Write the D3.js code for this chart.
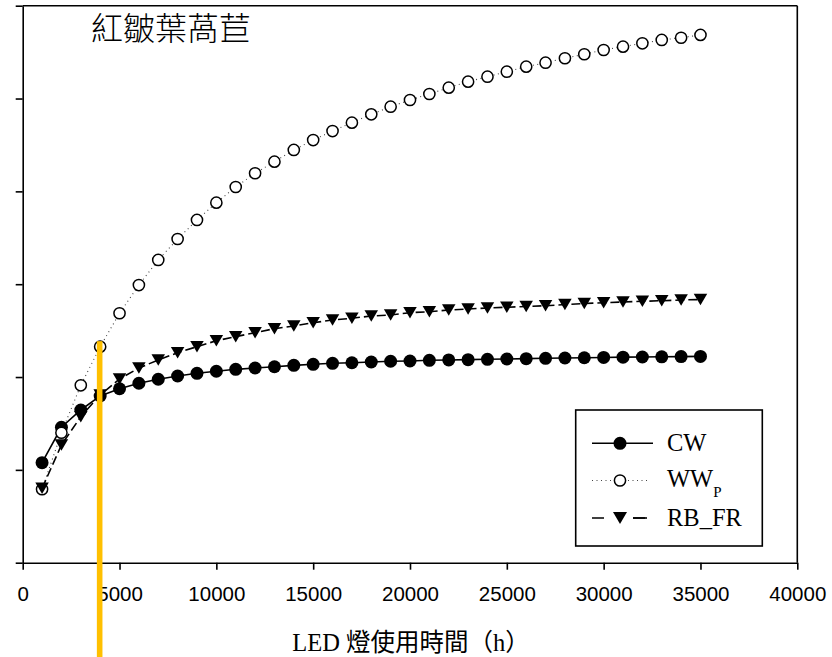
<!DOCTYPE html>
<html>
<head>
<meta charset="utf-8">
<script src="https://cdn.jsdelivr.net/npm/d3@7"></script>
<style>
  html, body { margin: 0; padding: 0; background: #fff; }
  svg { display: block; }
</style>
</head>
<body>
<svg id="chart" width="832" height="657"></svg>
<script>
// LED usage hours (x) and the three light treatments
const hours = [1000, 2000, 3000, 4000, 5000, 6000, 7000, 8000, 9000, 10000,
  11000, 12000, 13000, 14000, 15000, 16000, 17000, 18000, 19000, 20000,
  21000, 22000, 23000, 24000, 25000, 26000, 27000, 28000, 29000, 30000,
  31000, 32000, 33000, 34000, 35000];

const cw = [1.077, 1.459, 1.645, 1.796, 1.874, 1.933, 1.976, 2.011, 2.040, 2.062,
  2.083, 2.097, 2.111, 2.126, 2.137, 2.148, 2.154, 2.162, 2.170, 2.173,
  2.180, 2.184, 2.187, 2.191, 2.194, 2.198, 2.202, 2.205, 2.208, 2.211,
  2.214, 2.216, 2.218, 2.220, 2.222];

const wwP = [0.791, 1.400, 1.911, 2.327, 2.687, 2.991, 3.261, 3.487, 3.692, 3.878,
  4.047, 4.195, 4.320, 4.446, 4.553, 4.650, 4.740, 4.830, 4.912, 4.984,
  5.049, 5.117, 5.182, 5.235, 5.289, 5.343, 5.386, 5.434, 5.477, 5.523,
  5.559, 5.595, 5.631, 5.655, 5.685];

const rbFr = [0.801, 1.268, 1.573, 1.807, 1.979, 2.097, 2.184, 2.262, 2.327, 2.391,
  2.435, 2.478, 2.521, 2.550, 2.585, 2.614, 2.633, 2.658, 2.668, 2.693,
  2.704, 2.722, 2.733, 2.744, 2.752, 2.760, 2.768, 2.781, 2.792, 2.800,
  2.808, 2.816, 2.822, 2.830, 2.835];

const xTicks = [0, 5000, 10000, 15000, 20000, 25000, 30000, 35000, 40000];
const yTicks = [0, 1, 2, 3, 4, 5, 6];

const seriesNames = ["CW", "WW", "RB_FR"];
const titleText = "紅皺葉萵苣";
const xLabelText = "LED 燈使用時間（h）";
const markedHour = 4000;   // highlighted usage time

const svg = d3.select("#chart");

const x = d3.scaleLinear().domain([0, 40000]).range([22.7, 797.3]);
const y = d3.scaleLinear().domain([0, 6]).range([562.7, 5.7]);

// ---- axes ----
const xAxis = d3.axisBottom(x)
  .tickValues(xTicks)
  .tickSize(7)
  .tickSizeOuter(0)
  .tickPadding(17)
  .tickFormat(d3.format("d"));

const gx = svg.append("g")
  .attr("transform", `translate(0,${y(0)})`)
  .call(xAxis);
gx.selectAll("text")
  .attr("font-family", "'Liberation Sans', Arial, sans-serif")
  .attr("font-size", 20.5)
  .attr("fill", "#000");

const yAxis = d3.axisLeft(y)
  .tickValues(yTicks)
  .tickSize(7)
  .tickSizeOuter(0)
  .tickFormat("");
svg.append("g")
  .attr("transform", `translate(${x(0)},0)`)
  .call(yAxis);

svg.selectAll(".domain, .tick line")
  .attr("stroke", "#000")
  .attr("stroke-width", 1.6);

// top and right frame
svg.append("line")
  .attr("x1", x(0)).attr("x2", x(40000))
  .attr("y1", y(6)).attr("y2", y(6))
  .attr("stroke", "#000").attr("stroke-width", 1.6);
svg.append("line")
  .attr("x1", x(40000)).attr("x2", x(40000))
  .attr("y1", y(6)).attr("y2", y(0))
  .attr("stroke", "#000").attr("stroke-width", 1.6);

// ---- series ----
const pts = vals => hours.map((h, i) => [h, vals[i]]);
const line = d3.line().x(d => x(d[0])).y(d => y(d[1]));

const triPath = (cx, cy, w, h) =>
  `M${cx - w / 2},${cy - h / 2}L${cx + w / 2},${cy - h / 2}L${cx},${cy + h / 2}Z`;

// lines
svg.append("path").datum(pts(cw)).attr("d", line)
  .attr("fill", "none").attr("stroke", "#000").attr("stroke-width", 1.6);
svg.append("path").datum(pts(wwP)).attr("d", line)
  .attr("fill", "none").attr("stroke", "#444").attr("stroke-width", 1.1)
  .attr("stroke-dasharray", "1,3.5");
svg.append("path").datum(pts(rbFr)).attr("d", line)
  .attr("fill", "none").attr("stroke", "#000").attr("stroke-width", 1.6)
  .attr("stroke-dasharray", "9,4");

// markers
svg.append("g").selectAll("circle").data(pts(cw)).join("circle")
  .attr("cx", d => x(d[0])).attr("cy", d => y(d[1]))
  .attr("r", 6.5).attr("fill", "#000");

svg.append("g").selectAll("circle").data(pts(wwP)).join("circle")
  .attr("cx", d => x(d[0])).attr("cy", d => y(d[1]))
  .attr("r", 5.6).attr("fill", "#fff")
  .attr("stroke", "#000").attr("stroke-width", 1.5);

svg.append("g").selectAll("path").data(pts(rbFr)).join("path")
  .attr("d", d => triPath(x(d[0]), y(d[1]), 13.5, 11.5))
  .attr("fill", "#000");

// ---- legend ----
const lg = svg.append("g");
lg.append("rect")
  .attr("x", 575.7).attr("y", 410).attr("width", 186.6).attr("height", 136)
  .attr("fill", "#fff").attr("stroke", "#000").attr("stroke-width", 1.6);

const rows = [443.3, 480.5, 518];
const lx1 = 592, lx2 = 650, mx = 620, tx = 667;

// CW
lg.append("line").attr("x1", lx1).attr("x2", lx2 + 3).attr("y1", rows[0]).attr("y2", rows[0])
  .attr("stroke", "#000").attr("stroke-width", 1.6);
lg.append("circle").attr("cx", mx).attr("cy", rows[0]).attr("r", 6.5).attr("fill", "#000");
// WW_P
lg.append("line").attr("x1", lx1).attr("x2", lx2).attr("y1", rows[1]).attr("y2", rows[1])
  .attr("stroke", "#444").attr("stroke-width", 1.1).attr("stroke-dasharray", "1,3.5");
lg.append("circle").attr("cx", mx).attr("cy", rows[1]).attr("r", 5.6)
  .attr("fill", "#fff").attr("stroke", "#000").attr("stroke-width", 1.5);
// RB_FR
lg.append("line").attr("x1", lx1).attr("x2", lx2 - 3).attr("y1", rows[2]).attr("y2", rows[2])
  .attr("stroke", "#000").attr("stroke-width", 1.6).attr("stroke-dasharray", "12,29");
lg.append("line").attr("x1", 633).attr("x2", lx2 - 3).attr("y1", rows[2]).attr("y2", rows[2])
  .attr("stroke", "#000").attr("stroke-width", 1.6);
lg.append("path").attr("d", triPath(mx, rows[2], 14, 12)).attr("fill", "#000");

const lgFont = "'Liberation Serif', 'Times New Roman', serif";
lg.append("text").attr("x", tx).attr("y", 450.7)
  .attr("font-family", lgFont).attr("font-size", 24.5).text(seriesNames[0]);
const wwText = lg.append("text").attr("x", tx).attr("y", 487)
  .attr("font-family", lgFont).attr("font-size", 24.5);
wwText.append("tspan").text(seriesNames[1]);
wwText.append("tspan").attr("dy", 9.5).attr("font-size", 15).text("P");
lg.append("text").attr("x", tx).attr("y", 526)
  .attr("font-family", lgFont).attr("font-size", 24.5).text(seriesNames[2]);

// ---- title and axis label ----
svg.append("text")
  .attr("x", 91).attr("y", 39.5)
  .attr("font-family", "'Noto Sans CJK TC', 'Noto Sans CJK SC', sans-serif")
  .attr("font-size", 32).attr("font-weight", 300)
  .attr("fill", "#000")
  .text(titleText);

svg.append("text")
  .attr("x", 411).attr("y", 651)
  .attr("text-anchor", "middle")
  .attr("font-family", "'Liberation Serif', 'Times New Roman', 'Noto Sans CJK TC', serif")
  .attr("font-size", 24.5)
  .attr("fill", "#000")
  .text(xLabelText);

// ---- highlight marker at the chosen usage time ----
const wwAtMark = wwP[hours.indexOf(markedHour)];
svg.append("rect")
  .attr("x", x(markedHour) - 3.3)
  .attr("y", y(wwAtMark) - 5.5)
  .attr("width", 5.6)
  .attr("height", 657 - (y(wwAtMark) - 5.5))
  .attr("fill", "#FFC000");
</script>
</body>
</html>
